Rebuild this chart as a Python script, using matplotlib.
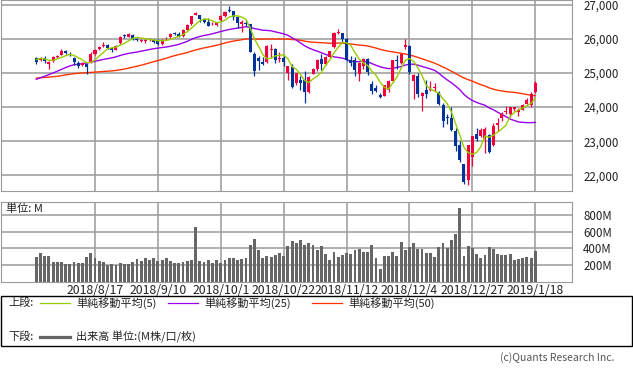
import numpy as np
import pandas as pd
import matplotlib
matplotlib.use("Agg")
import matplotlib.pyplot as plt
from matplotlib.patches import Rectangle
from matplotlib.lines import Line2D

plt.rcParams['font.family'] = ['Noto Sans CJK JP', 'DejaVu Sans']

# closes before the visible window (only used for the moving averages)
prior_closes = [24715.09, 25013.29, 24834.41, 24886.81, 24811.76, 24753.09, 24361.45, 24667.78,
                24415.84, 24635.21, 24813.69, 24799.98, 25146.39, 25241.41, 25316.53, 25322.31,
                25320.73, 25201.20, 25175.31, 25090.48, 24987.47, 24700.21, 24657.80, 24461.70,
                24580.89, 24252.80, 24283.11, 24117.59, 24216.05, 24271.41, 24307.18, 24174.82,
                24356.74, 24456.48, 24776.59, 24919.66, 24700.45, 24924.89, 25019.41, 25064.36,
                25119.89, 25199.29, 25064.50, 25058.12, 25044.29, 25241.94, 25414.10, 25527.07,
                25451.06]

dates = ["2018/7/30", "2018/7/31", "2018/8/1", "2018/8/2", "2018/8/3", "2018/8/6", "2018/8/7",
         "2018/8/8", "2018/8/9", "2018/8/10", "2018/8/13", "2018/8/14", "2018/8/15", "2018/8/16",
         "2018/8/17", "2018/8/20", "2018/8/21", "2018/8/22", "2018/8/23", "2018/8/24", "2018/8/27",
         "2018/8/28", "2018/8/29", "2018/8/30", "2018/8/31", "2018/9/4", "2018/9/5", "2018/9/6",
         "2018/9/7", "2018/9/10", "2018/9/11", "2018/9/12", "2018/9/13", "2018/9/14", "2018/9/17",
         "2018/9/18", "2018/9/19", "2018/9/20", "2018/9/21", "2018/9/24", "2018/9/25", "2018/9/26",
         "2018/9/27", "2018/9/28", "2018/10/1", "2018/10/2", "2018/10/3", "2018/10/4", "2018/10/5",
         "2018/10/8", "2018/10/9", "2018/10/10", "2018/10/11", "2018/10/12", "2018/10/15",
         "2018/10/16", "2018/10/17", "2018/10/18", "2018/10/19", "2018/10/22", "2018/10/23",
         "2018/10/24", "2018/10/25", "2018/10/26", "2018/10/29", "2018/10/30", "2018/10/31",
         "2018/11/1", "2018/11/2", "2018/11/5", "2018/11/6", "2018/11/7", "2018/11/8", "2018/11/9",
         "2018/11/12", "2018/11/13", "2018/11/14", "2018/11/15", "2018/11/16", "2018/11/19",
         "2018/11/20", "2018/11/21", "2018/11/23", "2018/11/26", "2018/11/27", "2018/11/28",
         "2018/11/29", "2018/11/30", "2018/12/3", "2018/12/4", "2018/12/6", "2018/12/7",
         "2018/12/10", "2018/12/11", "2018/12/12", "2018/12/13", "2018/12/14", "2018/12/17",
         "2018/12/18", "2018/12/19", "2018/12/20", "2018/12/21", "2018/12/24", "2018/12/26",
         "2018/12/27", "2018/12/28", "2018/12/31", "2019/1/2", "2019/1/3", "2019/1/4", "2019/1/7",
         "2019/1/8", "2019/1/9", "2019/1/10", "2019/1/11", "2019/1/14", "2019/1/15", "2019/1/16",
         "2019/1/17", "2019/1/18"]

opens = [25440, 25370, 25420, 25250, 25340, 25460, 25530, 25630, 25560, 25430,
         25300, 25220, 25270, 25300, 25560, 25700, 25780, 25810, 25720, 25680,
         25860, 26100, 26060, 26110, 25980, 25920, 25940, 25960, 25950, 25950,
         25840, 25980, 26040, 26170, 26150, 26070, 26260, 26420, 26690, 26690,
         26580, 26500, 26420, 26390, 26560, 26650, 26840, 26800, 26630, 26440,
         26470, 26420, 25540, 25420, 25320, 25320, 25680, 25700, 25400, 25440,
         24990, 25180, 24700, 24790, 24800, 24450, 24980, 25100, 25400, 25250,
         25450, 25760, 26170, 26160, 25990, 25390, 25390, 24970, 25200, 25400,
         24680, 24560, 24350, 24330, 24500, 24760, 25370, 25300, 25760, 25780,
         24750, 24920, 24320, 24500, 24490, 24560, 24450, 24050, 23720, 23690,
         23300, 22880, 22320, 21857, 22550, 23200, 23140, 23058, 23180, 22895,
         23474, 23680, 23850, 23800, 23940, 23850, 23920, 24100, 24050, 24430]

highs = [25460, 25470, 25490, 25340, 25480, 25530, 25690, 25660, 25620, 25450,
         25350, 25330, 25280, 25600, 25700, 25780, 25890, 25840, 25760, 25810,
         26070, 26130, 26170, 26130, 26020, 25990, 26000, 26030, 26000, 25990,
         25990, 26040, 26160, 26200, 26190, 26270, 26420, 26660, 26770, 26700,
         26600, 26600, 26500, 26470, 26680, 26800, 26951, 26810, 26660, 26560,
         26560, 26440, 25620, 25500, 25460, 25820, 25850, 25720, 25620, 25490,
         25200, 25250, 25000, 24900, 25040, 24900, 25150, 25400, 25540, 25480,
         25650, 26190, 26277, 26180, 26020, 25500, 25460, 25330, 25430, 25420,
         24760, 24650, 24420, 24650, 24790, 25370, 25520, 25560, 26000, 25800,
         24960, 25000, 24450, 24800, 24750, 24700, 24470, 24120, 23800, 24000,
         23380, 23000, 22340, 22880, 23140, 23380, 23380, 23400, 23200, 23520,
         23690, 23865, 24040, 24010, 24010, 23960, 24090, 24250, 24450, 24750]

lows = [25270, 25340, 25280, 25120, 25320, 25420, 25520, 25560, 25490, 25230,
        25150, 25200, 24965, 25290, 25520, 25680, 25760, 25700, 25620, 25670,
        25850, 26030, 26040, 25960, 25930, 25890, 25880, 25920, 25860, 25820,
        25800, 25960, 26030, 26110, 26050, 26060, 26250, 26410, 26680, 26480,
        26470, 26370, 26390, 26370, 26530, 26630, 26780, 26550, 26320, 26205,
        26370, 25598, 24900, 25090, 25230, 25300, 25420, 25300, 25330, 25200,
        24800, 24550, 24650, 24500, 24122, 24420, 24960, 25050, 25080, 25240,
        25430, 25740, 26150, 25880, 25340, 25200, 24900, 24760, 25100, 24950,
        24370, 24440, 24270, 24310, 24450, 24730, 25100, 25270, 25700, 24980,
        24242, 24300, 23881, 24250, 24480, 24480, 24050, 23420, 23500, 23300,
        22700, 22400, 21750, 21712, 22267, 23000, 23130, 22640, 22640, 22860,
        23300, 23580, 23800, 23700, 23880, 23750, 23900, 24080, 24000, 24400]

closes = [25306.83, 25415.19, 25333.82, 25326.16, 25462.58, 25502.18, 25628.91, 25583.75,
          25509.23, 25313.14, 25187.70, 25299.92, 25162.41, 25558.73, 25669.32, 25758.69,
          25822.29, 25733.60, 25656.98, 25790.35, 26049.64, 26064.02, 26124.57, 25986.92,
          25964.82, 25952.48, 25974.99, 25995.87, 25916.54, 25857.07, 25971.06, 25998.92,
          26145.99, 26154.67, 26062.12, 26246.96, 26405.76, 26656.98, 26743.50, 26562.05,
          26492.21, 26385.28, 26439.93, 26458.31, 26651.21, 26773.94, 26828.39, 26627.48,
          26447.05, 26486.78, 26430.57, 25598.74, 25052.83, 25339.99, 25250.55, 25798.42,
          25706.68, 25379.45, 25444.34, 25317.41, 25191.43, 24583.42, 24984.55, 24688.31,
          24442.92, 24874.64, 25115.76, 25380.74, 25270.83, 25461.70, 25635.01, 26180.30,
          26191.22, 25989.30, 25387.18, 25286.49, 25080.50, 25289.27, 25413.22, 25017.44,
          24465.64, 24464.69, 24285.95, 24640.24, 24748.73, 25366.43, 25338.84, 25538.46,
          25826.43, 25027.07, 24947.67, 24388.95, 24423.26, 24370.24, 24527.27, 24597.38,
          24100.51, 23592.98, 23675.64, 23323.66, 22859.60, 22445.37, 21792.20, 22878.45,
          23138.82, 23062.40, 23327.46, 23346.24, 22686.22, 23433.16, 23531.35, 23787.45,
          23879.12, 24001.92, 23995.95, 23909.84, 24065.59, 24207.16, 24370.10, 24706.35]

# volume in millions
volumes = [289, 337, 301, 301, 233, 233, 233, 205, 205, 233,
           217, 217, 289, 337, 277, 245, 233, 193, 205, 193,
           217, 205, 205, 233, 269, 245, 277, 257, 277, 245,
           257, 277, 245, 217, 217, 233, 245, 257, 651, 241,
           229, 253, 217, 253, 225, 257, 277, 277, 257, 269,
           277, 434, 506, 382, 277, 301, 289, 313, 337, 301,
           422, 482, 458, 494, 434, 462, 434, 378, 422, 329,
           253, 349, 289, 313, 337, 325, 378, 386, 349, 349,
           434, 277, 145, 301, 301, 349, 301, 470, 374, 410,
           458, 386, 386, 337, 337, 289, 410, 458, 398, 494,
           570, 880, 301, 422, 398, 325, 277, 313, 410, 386,
           325, 313, 313, 325, 253, 265, 277, 289, 277, 361]

RED = '#f0003c'
BLUE = '#003399'
GRID = '#9a9a9a'

W, H = 633, 371


def box(l, t, r, b):
    return [l / W, 1 - b / H, (r - l) / W, (b - t) / H]


n = len(closes)
x = np.arange(n)
allc = pd.Series(prior_closes + closes)
ma5 = allc.rolling(5).mean().values[-n:]
ma25 = allc.rolling(25).mean().values[-n:]
ma50 = allc.rolling(50).mean().values[-n:]

fig = plt.figure(figsize=(W / 100, H / 100), dpi=100)
ax = fig.add_axes(box(0.5, 0, 572, 190.5))
axv = fig.add_axes(box(0.5, 201.7, 572, 281.5))

xlim = (-8.54, 127.76)
grid_idx = list(range(14, n, 15))

# --- price panel
ax.set_xlim(*xlim)
ax.set_ylim(21555, 27132)
ax.set_xticks(grid_idx)
ax.set_yticks(range(22000, 27001, 1000))
ax.grid(True, color=GRID, lw=1.1)
ax.set_axisbelow(True)
ax.yaxis.tick_right()
ax.set_yticklabels([f"{v:,}" for v in range(22000, 27001, 1000)])
ax.tick_params(length=0, labelbottom=False, labelsize=8.3, colors='#222222', pad=8)
for s in ax.spines.values():
    s.set_color(GRID)

ax.plot(x, ma50, color='#ff3300', lw=1.0, zorder=2)
ax.plot(x, ma25, color='#9900ee', lw=1.0, zorder=2)

for i in range(n):
    o, h, l, c = opens[i], highs[i], lows[i], closes[i]
    col = RED if c >= o else BLUE
    ax.vlines(i, l, h, color=col, lw=0.9, zorder=3)
    lo, hi = min(o, c), max(o, c)
    if hi - lo < 25:
        lo, hi = (o + c) / 2 - 12, (o + c) / 2 + 12
    ax.bar(i, hi - lo, bottom=lo, width=0.72, color=col, lw=0, zorder=3)

ax.plot(x, ma5, color='#99cc00', lw=1.0, zorder=4)

# --- volume panel
axv.set_xlim(*xlim)
axv.set_ylim(0, 960)
axv.bar(x, volumes, width=0.68, color='#666666', lw=0, zorder=3)
axv.set_xticks(grid_idx)
axv.set_xticklabels([dates[i] for i in grid_idx])
axv.set_yticks([200, 400, 600, 800])
axv.set_yticklabels(["200M", "400M", "600M", "800M"])
axv.yaxis.tick_right()
axv.grid(True, color=GRID, lw=1.1)
axv.set_axisbelow(True)
axv.tick_params(axis='y', length=0, labelsize=8.3, colors='#222222', pad=8)
axv.tick_params(axis='x', length=0, labelsize=8.8, colors='#222222', pad=1.5)
for s in axv.spines.values():
    s.set_color(GRID)
axv.text(6 / 571.5, 1 - 7 / 79.8, "単位: M", transform=axv.transAxes,
         fontsize=8, color='#222222', va='center', ha='left')

# --- legend box
fig.patches.append(Rectangle((0.5 / W, 1 - 346 / H), 631.5 / W, 50 / H,
                             transform=fig.transFigure, fill=False,
                             edgecolor='black', lw=1.0))


def fx(px):
    return px / W


def fy(py):
    return 1 - py / H


fig.text(fx(8), fy(303), "上段:", fontsize=8, va='center', color='#222222')
fig.text(fx(8), fy(337), "下段:", fontsize=8, va='center', color='#222222')
leg_items = [(40, '#99cc00', "単純移動平均(5)"),
             (168, '#9900ee', "単純移動平均(25)"),
             (312, '#ff3300', "単純移動平均(50)")]
for x0, col, label in leg_items:
    fig.lines.append(Line2D([fx(x0), fx(x0 + 30)], [fy(303), fy(303)],
                            transform=fig.transFigure, color=col, lw=0.9))
    fig.text(fx(x0 + 36), fy(303), label, fontsize=8, va='center', color='#222222')
fig.lines.append(Line2D([fx(40), fx(70)], [fy(337), fy(337)],
                        transform=fig.transFigure, color='#666666', lw=2.3))
fig.text(fx(76), fy(337), "出来高 単位:(M株/口/枚)", fontsize=8, va='center', color='#222222')

fig.text(fx(614), fy(358), "(c)Quants Research Inc.", fontsize=7.5,
         va='center', ha='right', color='#555555')

fig.savefig("out.png", dpi=100)
